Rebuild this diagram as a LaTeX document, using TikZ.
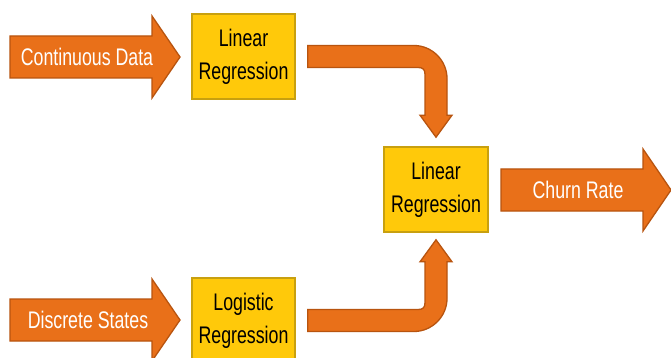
\documentclass[tikz,border=0pt]{standalone}
\usepackage{fontspec}
\setmainfont[FakeStretch=0.74]{Liberation Sans}
\usetikzlibrary{calc}
\definecolor{orfill}{HTML}{E97019}
\definecolor{orline}{HTML}{B8540F}
\definecolor{yfill}{HTML}{FFC90A}
\definecolor{yline}{HTML}{C8A00F}
\tikzset{
  box/.style={draw=yline, fill=yfill, line width=1.6pt, minimum width=103pt, minimum height=85pt,
    align=center, inner sep=0pt, font=\fontsize{24}{33}\selectfont, text=black},
  fatarrow/.style={fill=orfill, draw=orline, line width=1.3pt, line join=miter},
  arrowlabel/.style={text=white, font=\fontsize{24}{28}\selectfont, inner sep=0pt}
}
\begin{document}
\begin{tikzpicture}[x=1pt,y=-1pt]
\useasboundingbox (0,0) rectangle (671,358);
\clip (0,0) rectangle (671,358);
\fill[white] (0,0) rectangle (671,358);

% boxes
\node[box] (lr1) at (243.5,56.5) {Linear\\Regression};
\node[box, minimum width=104pt] (lrc) at (436,189.5) {Linear\\Regression};
\node[box] (lg) at (243.5,320.5) {Logistic\\Regression};

% input and output block arrows
\draw[fatarrow] (10,36) -- (152,36) -- (152,16) -- (180,57) -- (152,98) -- (152,78) -- (10,78) -- cycle;
\node[arrowlabel] (cd) at (87,57) {Continuous Data};
\draw[fatarrow] (10,299) -- (152,299) -- (152,279) -- (180,320) -- (152,361) -- (152,341) -- (10,341) -- cycle;
\node[arrowlabel] (ds) at (88,320) {Discrete States};
\draw[fatarrow] (501,169) -- (643,169) -- (643,149) -- (671,190) -- (643,231) -- (643,211) -- (501,211) -- cycle;
\node[arrowlabel] (cr) at (578,190) {Churn Rate};

% curved connector: top linear regression -> centre
\coordinate (s1) at ($(lr1.east)+(12,0)$);
\coordinate (t1) at ($(lrc.north)+(0,-9)$);
\coordinate (c1) at (t1 |- s1);
\draw[fatarrow] ($(s1)+(0,-11)$) -- ($(c1)+(-22,-11)$)
  .. controls ($(c1)+(-4,-11)$) and ($(c1)+(11,4)$) .. ($(c1)+(11,22)$)
  -- ($(t1)+(11,-22)$) -- ($(t1)+(16,-22)$) -- (t1) -- ($(t1)+(-16,-22)$) -- ($(t1)+(-11,-22)$)
  -- ($(c1)+(-11,18)$)
  .. controls ($(c1)+(-11,13)$) and ($(c1)+(-13,11)$) .. ($(c1)+(-18,11)$)
  -- ($(s1)+(0,11)$) -- cycle;

% curved connector: logistic regression -> centre
\coordinate (s2) at ($(lg.east)+(12,0)$);
\coordinate (t2) at ($(lrc.south)+(0,7)$);
\coordinate (c2) at (t2 |- s2);
\draw[fatarrow] ($(s2)+(0,11)$) -- ($(c2)+(-22,11)$)
  .. controls ($(c2)+(-4,11)$) and ($(c2)+(11,-4)$) .. ($(c2)+(11,-22)$)
  -- ($(t2)+(11,22)$) -- ($(t2)+(16,22)$) -- (t2) -- ($(t2)+(-16,22)$) -- ($(t2)+(-11,22)$)
  -- ($(c2)+(-11,-18)$)
  .. controls ($(c2)+(-11,-13)$) and ($(c2)+(-13,-11)$) .. ($(c2)+(-18,-11)$)
  -- ($(s2)+(0,-11)$) -- cycle;
\end{tikzpicture}
\end{document}
